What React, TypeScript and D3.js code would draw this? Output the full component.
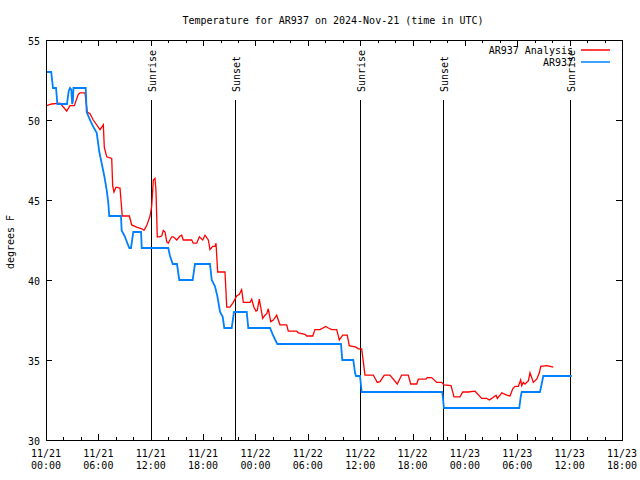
import React from "react";
import * as d3 from "d3";

const TITLE = "Temperature for AR937 on 2024-Nov-21 (time in UTC)";
const Y_LABEL = "degrees F";
const SERIES_NAMES = ["AR937 Analysis", "AR937"];
const SERIES_COLORS = ["#ff0000", "#0080ff"];

// hours after 2024-11-21 00:00 UTC
const analysisHours = [0.08,0.65,1.6,2.37,2.75,3.24,3.7,3.9,4.47,4.73,5.04,5.42,6.19,6.57,6.68,6.96,7.53,7.64,7.79,8.02,8.48,8.74,9.55,9.82,10.39,10.97,11.23,11.54,11.92,12.11,12.3,12.49,12.6,12.75,12.98,13.26,13.44,13.64,13.83,14.01,14.4,14.59,14.98,15.35,15.55,15.73,16.69,16.88,17.27,17.57,17.96,18.22,18.6,18.79,19.1,19.36,19.48,19.67,20.13,20.51,20.71,21.08,21.46,21.85,22.15,22.42,22.61,23.38,23.57,23.83,24.06,24.21,24.44,24.6,24.83,25.1,25.29,25.47,25.75,26.05,26.43,26.81,27.58,27.76,28.73,28.91,29.68,29.87,30.56,30.82,31.4,32.05,32.35,32.74,33.31,33.61,34.0,34.52,34.75,35.52,35.79,36.17,36.29,36.55,37.5,37.96,38.27,38.76,39.41,40.25,40.75,41.51,41.79,42.48,42.66,43.54,43.69,44.19,44.77,45.34,45.6,46.41,46.75,47.44,47.75,48.39,49.16,49.93,50.5,50.8,51.07,51.57,51.72,52.23,52.41,52.8,53.17,53.48,53.74,54.12,54.39,54.51,54.69,54.89,55.08,55.27,55.46,55.65,55.84,56.23,56.53,56.69,57.38,58.13];
const analysisTemps = [50.9,51.0,51.05,50.56,50.9,50.9,51.6,51.7,51.7,50.5,50.4,50.0,49.4,49.7,48.3,47.7,47.6,45.9,45.5,45.8,45.75,44.0,44.0,43.44,43.3,43.2,43.1,43.4,44.0,44.6,46.25,46.35,45.6,42.7,42.7,42.75,43.1,43.0,42.4,42.3,42.7,42.7,42.5,42.75,42.8,42.5,42.5,42.3,42.3,42.7,42.5,42.8,42.5,41.9,42.1,42.1,42.3,40.5,40.5,40.5,38.3,38.3,38.6,39.0,39.1,39.4,38.6,38.6,38.8,38.3,38.06,38.1,38.8,38.3,37.6,37.8,37.9,38.2,37.4,37.5,37.8,37.2,37.2,36.8,36.8,36.7,36.6,36.5,36.5,36.9,36.9,37.1,37.0,36.9,36.9,36.25,36.56,36.56,35.9,35.8,35.7,35.7,35.2,34.06,34.06,33.6,33.65,34.06,34.06,33.5,34.06,34.06,33.5,33.5,33.8,33.8,33.9,33.9,33.6,33.6,33.44,33.4,32.7,32.7,33.0,33.0,33.05,32.6,32.6,32.5,32.6,32.8,32.6,32.95,32.9,32.8,32.75,33.2,33.35,33.35,33.75,33.4,33.6,33.5,33.6,33.7,34.2,33.9,33.6,33.8,34.2,34.6,34.65,34.55];

const obsHours = [0.0,0.6,0.8,1.15,1.3,2.4,2.6,2.75,2.9,3.0,3.08,3.15,4.55,4.66,5.04,5.39,5.81,6.11,6.38,6.68,6.96,7.14,7.25,8.59,8.67,9.05,9.32,9.55,9.74,10.0,10.89,10.97,14.01,14.21,14.52,15.01,15.27,16.81,17.07,18.79,18.99,19.36,19.63,19.94,20.25,20.43,21.28,21.54,23.0,23.18,25.67,26.05,26.5,33.8,33.95,35.21,35.41,35.52,35.98,36.17,45.41,45.6,54.23,54.39,54.51,56.6,56.8,56.98,60.24];
const obsTemps = [53,53,52,52,51,51,51.8,52,51.9,51,51.2,52,52,50.5,50.0,49.6,49.2,48.0,47.3,46.5,45.6,44.8,44,44,43.1,42.7,42.3,42,42,43,43,42,42,41.5,41,41,40,40,41,41,40,39.6,39,38,37.7,37,37,38,38,37,37,36.5,36,36,35,35,34.2,34,34,33,33,32,32,32.7,33,33,33.5,34,34];

const sunEvents = ["Sunrise", "Sunset", "Sunrise", "Sunset", "Sunrise"];
const sunHours = [12.03, 21.66, 35.98, 45.5, 60.0];

const yTicks = [30, 35, 40, 45, 50, 55];
const xTickHours = [0, 6, 12, 18, 24, 30, 36, 42, 48, 54, 60, 66];

const START = Date.UTC(2024, 10, 21, 0, 0);
const toDate = (h: number) => new Date(START + h * 3600000);

export default function App() {
  const W = 640, H = 480;
  const L = 46, R = 622, T = 40, B = 440;
  const x = d3.scaleUtc().domain([toDate(0), toDate(66)]).range([L, R]);
  const y = d3.scaleLinear().domain([30, 55]).range([B, T]);
  const font = "'DejaVu Sans Mono', monospace";
  const line = d3.line<[number, number]>().x(d => x(toDate(d[0]))).y(d => y(d[1]));
  const analysis = analysisHours.map((h, i) => [h, analysisTemps[i]] as [number, number]);
  const obs = obsHours.map((h, i) => [h, obsTemps[i]] as [number, number]);
  const minorHours = d3.range(0, 67, 2);
  const fmtDay = d3.utcFormat("%m/%d");
  const fmtTime = d3.utcFormat("%H:%M");

  return (
    <svg width={W} height={H} style={{ position: "absolute", left: 0, top: 0, background: "#fff" }} fontFamily={font} fontSize={10}>
      <rect x={0} y={0} width={W} height={H} fill="#fff" />
      <text x={333} y={24} textAnchor="middle" fill="#000">{TITLE}</text>
      {minorHours.map(h => {
        const xx = Math.round(x(toDate(h))) + 0.5;
        const len = h % 6 === 0 ? 6 : 3;
        return (
          <g key={"t" + h} stroke="#000" strokeWidth={1}>
            <line x1={xx} x2={xx} y1={B} y2={B - len} />
            <line x1={xx} x2={xx} y1={T} y2={T + len} />
          </g>
        );
      })}
      {yTicks.map(v => {
        const yy = Math.round(y(v)) + 0.5;
        return (
          <g key={"y" + v}>
            <line x1={L} x2={L + 6} y1={yy} y2={yy} stroke="#000" />
            <line x1={R - 6} x2={R} y1={yy} y2={yy} stroke="#000" />
            <text x={L - 6} y={yy + 4} textAnchor="end" fill="#000">{v}</text>
          </g>
        );
      })}
      {xTickHours.map(h => {
        const xx = x(toDate(h));
        return (
          <text key={"xl" + h} x={xx} textAnchor="middle" fill="#000">
            <tspan x={xx} y={457}>{fmtDay(toDate(h))}</tspan>
            <tspan x={xx} y={469}>{fmtTime(toDate(h))}</tspan>
          </text>
        );
      })}
      <text transform={`translate(14,${(T + B) / 2 + 2}) rotate(-90)`} textAnchor="middle" fill="#000">{Y_LABEL}</text>
      {sunHours.map((h, i) => {
        const xx = Math.round(x(toDate(h))) + 0.5;
        return (
          <g key={"s" + i}>
            <line x1={xx} x2={xx} y1={100} y2={B} stroke="#000" strokeWidth={1} />
            <text transform={`translate(${xx + 4},92) rotate(-90)`} textAnchor="start" fill="#000">{sunEvents[i]}</text>
          </g>
        );
      })}
      <path d={line(analysis) || ""} fill="none" stroke={SERIES_COLORS[0]} strokeWidth={1.3} />
      <path d={line(obs) || ""} fill="none" stroke={SERIES_COLORS[1]} strokeWidth={1.8} />
      {SERIES_NAMES.map((n, i) => (
        <g key={"lg" + i}>
          <text x={573} y={54 + i * 12} textAnchor="end" fill="#000">{n}</text>
          <line x1={581} x2={610} y1={50 + i * 12} y2={50 + i * 12} stroke={SERIES_COLORS[i]} strokeWidth={1.5} />
        </g>
      ))}
      <rect x={L + 0.5} y={T + 0.5} width={R - L} height={B - T} fill="none" stroke="#000" strokeWidth={1} />
    </svg>
  );
}
